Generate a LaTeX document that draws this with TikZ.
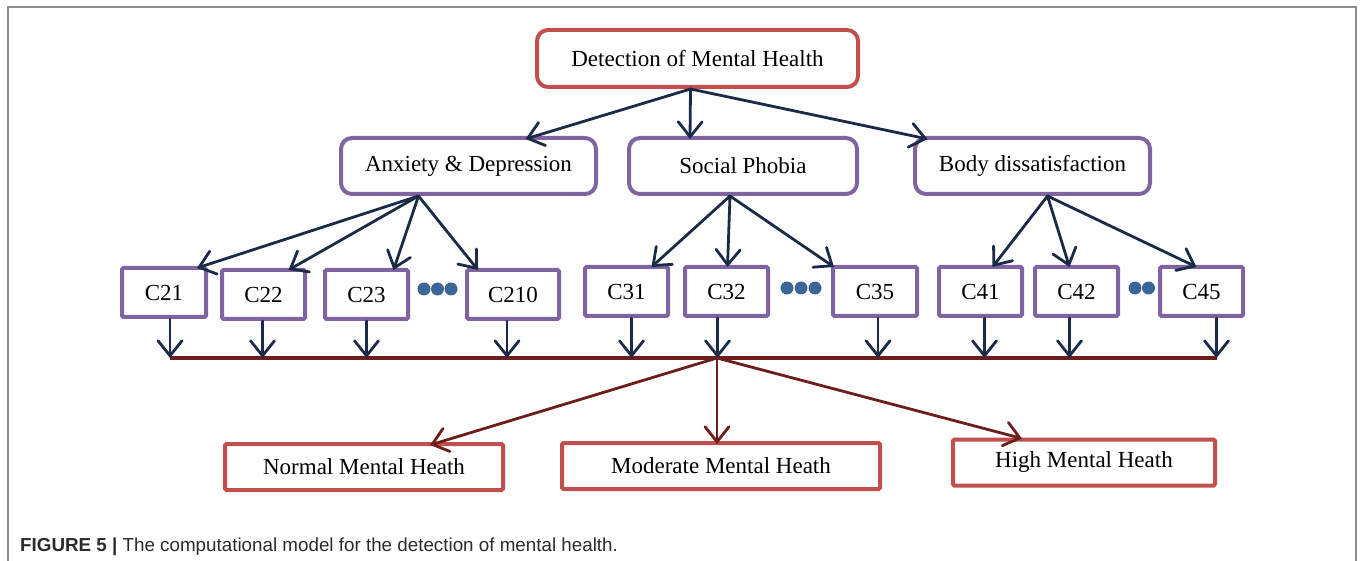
\documentclass[tikz,border=0pt]{standalone}
\usepackage{fontspec}
\setmainfont{Liberation Serif}
\newfontfamily\capfont{Liberation Sans}
\usetikzlibrary{arrows.meta}
\definecolor{bxred}{HTML}{C0504D}
\definecolor{bxpurple}{HTML}{8064A2}
\definecolor{navy}{HTML}{1B2A47}
\definecolor{maroonline}{HTML}{6E1D1D}
\definecolor{dotblue}{HTML}{3D6697}
\definecolor{framegray}{HTML}{8C8C8C}
\definecolor{captext}{HTML}{2B2B2B}
\begin{document}
\begin{tikzpicture}[x=1pt,y=-1pt,
  lbl/.style={font=\fontsize{23}{27}\selectfont, inner sep=0pt, align=center},
  rootbox/.style={lbl, draw=bxred, line width=4pt, rounded corners=11pt},
  catbox/.style={lbl, draw=bxpurple, line width=4pt, rounded corners=11pt, minimum height=56pt},
  cbox/.style={lbl, draw=bxpurple, line width=4pt, rounded corners=1.5pt, minimum height=49pt},
  outbox/.style={lbl, draw=bxred, line width=4pt, rounded corners=1.5pt, minimum height=46pt},
  conn/.style={draw=navy, line width=2.8pt, line cap=round, -{Straight Barb[length=15pt,width=24pt,line cap=round]}},
  oconn/.style={draw=maroonline, line width=2.8pt, line cap=round, -{Straight Barb[length=15pt,width=24pt,line cap=round]}},
  busline/.style={draw=maroonline, line width=3.2pt},
  dotc/.style={fill=dotblue, draw=none, circle, minimum size=13pt, inner sep=0pt},
  framel/.style={draw=framegray, line width=2pt}
]
\useasboundingbox (0,0) rectangle (1360,561);
\draw[framel] (8,561) -- (8,7) -- (1356,7) -- (1356,561);

% top
\node[rootbox, minimum width=321pt, minimum height=57pt] (top) at (697.5,58.5) {Detection of Mental Health};
% categories
\node[catbox, minimum width=255pt] (ad) at (468.5,166) {Anxiety \& Depression};
\node[catbox, minimum width=228pt] (sp) at (743,166) {Social Phobia};
\node[catbox, minimum width=235pt] (bd) at (1032.5,166) {Body dissatisfaction};
% criteria
\node[cbox, minimum width=84pt] (c21) at (164,292.5) {C21};
\node[cbox, minimum width=83pt] (c22) at (263.5,294.5) {C22};
\node[cbox, minimum width=83pt] (c23) at (366.5,294.5) {C23};
\node[cbox, minimum width=92pt] (c210) at (513,294.5) {C210};
\node[cbox, minimum width=83pt] (c31) at (626.5,291.5) {C31};
\node[cbox, minimum width=83pt] (c32) at (726.5,291.5) {C32};
\node[cbox, minimum width=84pt] (c35) at (875,291.5) {C35};
\node[cbox, minimum width=83pt] (c41) at (980.5,291.5) {C41};
\node[cbox, minimum width=83pt] (c42) at (1076.5,291.5) {C42};
\node[cbox, minimum width=83pt] (c45) at (1201.5,291.5) {C45};
% dots
\node[dotc] (d1) at (424,289) {};
\node[dotc] (d2) at (437.5,289) {};
\node[dotc] (d3) at (451,289) {};
\node[dotc] (d4) at (787,288) {};
\node[dotc] (d5) at (801,288) {};
\node[dotc] (d6) at (815,288) {};
\node[dotc] (d7) at (1135,288) {};
\node[dotc] (d8) at (1148.5,288) {};
% outcomes
\node[outbox, minimum width=278pt] (nor) at (364,467) {Normal Mental Heath};
\node[outbox, minimum width=318pt] (mod) at (721,466) {Moderate Mental Heath};
\node[outbox, minimum width=262pt] (hig) at (1084,462.5) {High Mental Heath};

% top arrows
\draw[conn] ([xshift=-7pt]top.south) -- ([xshift=57pt,yshift=-3pt]ad.north);
\draw[conn] ([xshift=-7pt]top.south) -- ([xshift=-53pt,yshift=-3pt]sp.north);
\draw[conn] ([xshift=-7pt]top.south) -- ([xshift=-105pt,yshift=-3pt]bd.north);
% category arrows
\draw[conn] ([xshift=-50pt]ad.south) -- ([xshift=33pt,yshift=-2pt]c21.north);
\draw[conn] ([xshift=-50pt]ad.south) -- ([xshift=25pt,yshift=-2pt]c22.north);
\draw[conn] ([xshift=-50pt]ad.south) -- ([xshift=27pt,yshift=-2pt]c23.north);
\draw[conn] ([xshift=-50pt]ad.south) -- ([xshift=-35pt,yshift=-2pt]c210.north);
\draw[conn] ([xshift=-13pt]sp.south) -- ([xshift=25pt,yshift=-2pt]c31.north);
\draw[conn] ([xshift=-13pt]sp.south) -- ([xshift=1pt,yshift=-2pt]c32.north);
\draw[conn] ([xshift=-13pt]sp.south) -- ([xshift=-41pt,yshift=-2pt]c35.north);
\draw[conn] ([xshift=15pt]bd.south) -- ([xshift=12pt,yshift=-2pt]c41.north);
\draw[conn] ([xshift=15pt]bd.south) -- ([xshift=-7pt,yshift=-2pt]c42.north);
\draw[conn] ([xshift=15pt]bd.south) -- ([xshift=-5pt,yshift=-2pt]c45.north);

% bus
\coordinate (busL) at (170,358);
\coordinate (busR) at (1217,358);
\coordinate (hub) at (717,358);
\draw[busline] (busL) -- (busR);
\draw[conn] ([xshift=6pt]c21.south) -- ([xshift=6pt]c21.south |- busL);
\draw[conn] ([xshift=-1pt]c22.south) -- ([xshift=-1pt]c22.south |- busL);
\draw[conn] ([xshift=0pt]c23.south) -- ([xshift=0pt]c23.south |- busL);
\draw[conn] ([xshift=-6pt]c210.south) -- ([xshift=-6pt]c210.south |- busL);
\draw[conn] ([xshift=5pt]c31.south) -- ([xshift=5pt]c31.south |- busL);
\draw[conn] ([xshift=-9pt]c32.south) -- ([xshift=-9pt]c32.south |- busL);
\draw[conn] ([xshift=3pt]c35.south) -- ([xshift=3pt]c35.south |- busL);
\draw[conn] ([xshift=4pt]c41.south) -- ([xshift=4pt]c41.south |- busL);
\draw[conn] ([xshift=-7pt]c42.south) -- ([xshift=-7pt]c42.south |- busL);
\draw[conn] ([xshift=15pt]c45.south) -- ([xshift=15pt]c45.south |- busL);
% outcome arrows
\draw[oconn] (hub) -- ([xshift=66pt,yshift=-3pt]nor.north);
\draw[oconn] (hub) -- ([xshift=-4pt,yshift=-3pt]mod.north);
\draw[oconn] (hub) -- ([xshift=-62pt,yshift=-1pt]hig.north);

% caption
\node[anchor=base west, inner sep=0pt, text=captext, font=\capfont\fontsize{18.8}{22}\selectfont] (cap) at (20,551) {\textbf{FIGURE 5 |} The computational model for the detection of mental health.};
\end{tikzpicture}
\end{document}
